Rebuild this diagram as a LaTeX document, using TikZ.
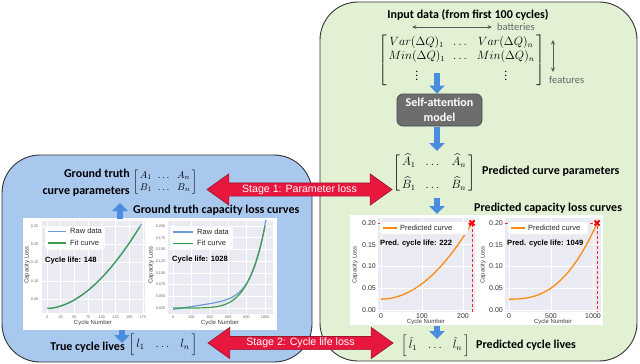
\documentclass[tikz,border=0pt]{standalone}
\usepackage{amsmath}
\usepackage[no-math]{fontspec}
\setmainfont{Carlito}
\newfontfamily\arialf{Liberation Sans}
\usetikzlibrary{shapes.arrows,arrows.meta}
\definecolor{gfill}{HTML}{E2F1D4}
\definecolor{bfill}{HTML}{A9C8EE}
\definecolor{barrow}{HTML}{4A8DDF}
\definecolor{rarrow}{HTML}{E8173E}
\definecolor{rborder}{HTML}{9E1530}
\definecolor{axbg}{HTML}{EAEAF2}
\definecolor{sbblue}{HTML}{6A9BDB}
\definecolor{sbgreen}{HTML}{3F9E4C}
\definecolor{sborange}{HTML}{FF8A12}
\definecolor{boxgray}{HTML}{6D6D6D}
\tikzset{
  panel/.style={draw=black!80, line width=0.9pt, rounded corners=38pt},
  lbl/.style={font=\bfseries\fontsize{12}{15}\selectfont, inner sep=0},
  side/.style={font=\fontsize{10.5}{12}\selectfont, text=black!60, inner sep=0},
  barr/.style={-{Triangle[width=15pt,length=8pt]}, line width=6.5pt, draw=barrow},
  garr/.style={{Stealth[length=4.5pt,width=4pt]}-{Stealth[length=4.5pt,width=4pt]}, draw=black!65, line width=0.8pt},
  redarr/.style={double arrow, fill=rarrow, draw=rborder, line width=0.7pt, text=white,
     font=\arialf\fontsize{10.6}{12}\selectfont, double arrow head extend=9pt,
     double arrow tip angle=71, inner ysep=1pt, inner xsep=0pt, minimum height=185pt,
     text height=8pt, text depth=2.5pt},
  mat/.style={inner sep=0},
  sabox/.style={fill=boxgray, draw=black!70, line width=0.8pt, rounded corners=6pt, text=white,
     font=\bfseries\fontsize{12}{15}\selectfont, align=center, minimum width=85pt, minimum height=32pt, inner sep=0},
  gridl/.style={white, line width=0.6pt},
  tick/.style={font=\arialf\fontsize{7}{7}\selectfont, text=black!80, inner sep=0.5pt},
  smtick/.style={font=\arialf\fontsize{3.8}{4}\selectfont, text=black!60, inner sep=0.5pt},
  axlab/.style={font=\arialf\fontsize{6}{6}\selectfont, text=black!75, inner sep=0},
  leg/.style={font=\arialf\fontsize{7.5}{8}\selectfont, text=black!85, inner sep=0, anchor=mid west},
  lifet/.style={font=\arialf\bfseries\fontsize{7.6}{8}\selectfont, inner sep=0, anchor=mid west},
  legbox/.style={fill=white, draw=black!12, rounded corners=1.5pt, line width=0.3pt},
  reddot/.style={red!85!white, densely dashed, line width=0.6pt},
}
\begin{document}
\begin{tikzpicture}[x=1pt,y=-1pt]
\useasboundingbox (0,0) rectangle (640,364);
% panels
\draw[panel, fill=gfill] (320,2) rectangle (637,361);
\draw[panel, fill=bfill] (2,155) rectangle (312,362);

% ---------------- right plots ----------------
\fill[white] (350,215) rectangle (603,325);
% P1
\fill[axbg] (378,218) rectangle (475,312);
\foreach \i/\lab in {0/0.00,1/0.05,2/0.10,3/0.15,4/0.20}{
  \draw[gridl] (378,{310-21.75*\i}) -- (475,{310-21.75*\i});
  \node[tick, anchor=east] at (376.5,{310-21.75*\i}) {\lab};}
\foreach \c in {0,100,200}{
  \draw[gridl] ({381+0.41*\c},218) -- ({381+0.41*\c},312);
  \node[tick, anchor=north] at ({381+0.41*\c},312.5) {\c};}
\node[axlab] at (426,321.5) {Cycle Number};
\node[axlab, rotate=90] at (355,265) {Capacity Loss};
\draw[reddot] (378,223) -- (472,223) -- (472,312);
\draw[sborange, line width=1.3pt] plot[domain=0:222, samples=40] ({381+0.41*\x},{310-435*(0.025+0.175*(\x/222)^2)});
\draw[red, line width=1.8pt] (469.5,220.5) -- (474.5,225.5) (469.5,225.5) -- (474.5,220.5);
\draw[legbox] (380,221.5) rectangle (468,234.5);
\draw[sborange, line width=1.3pt] (383,228) -- (397,228);
\node[leg] at (400,228) {Predicted curve};
\node[lifet] at (380,242.7) {Pred. cycle life: 222};
% P2
\fill[axbg] (505,218) rectangle (601,312);
\foreach \i/\lab in {0/0.00,1/0.05,2/0.10,3/0.15,4/0.20}{
  \draw[gridl] (505,{310-21.75*\i}) -- (601,{310-21.75*\i});
  \node[tick, anchor=east] at (503.5,{310-21.75*\i}) {\lab};}
\foreach \c in {0,500,1000}{
  \draw[gridl] ({509+0.084*\c},218) -- ({509+0.084*\c},312);
  \node[tick, anchor=north] at ({509+0.084*\c},312.5) {\c};}
\node[axlab] at (553,321.5) {Cycle Number};
\node[axlab, rotate=90] at (483,265) {Capacity Loss};
\draw[reddot] (505,223) -- (597,223) -- (597,312);
\draw[sborange, line width=1.3pt] plot[domain=1:1049, samples=50] ({509+0.084*\x},{310-435*(0.025+0.175*(\x/1049)^2.6)});
\draw[red, line width=1.8pt] (594.5,220.5) -- (599.5,225.5) (594.5,225.5) -- (599.5,220.5);
\draw[legbox] (508,221.5) rectangle (588,234.5);
\draw[sborange, line width=1.3pt] (511,228) -- (525,228);
\node[leg] at (528,228) {Predicted curve};
\node[lifet] at (507,242.7) {Pred. cycle life: 1049};

% ---------------- left plots ----------------
\fill[white] (23,218) rectangle (277,330);
% L1
\fill[axbg] (42,221) rectangle (145,313);
\foreach \v in {0.05,0.10,0.15,0.20,0.25}{
  \draw[gridl] (42,{317.3-365*\v}) -- (145,{317.3-365*\v});
  \node[smtick, anchor=east] at (39,{317.3-365*\v}) {\v};}
\foreach \c in {0,25,...,175}{
  \draw[gridl] ({47+0.5486*\c},221) -- ({47+0.5486*\c},313);
  \node[smtick, anchor=north] at ({47+0.5486*\c},315) {\c};}
\node[axlab] at (93,323) {Cycle Number};
\node[axlab, rotate=90] at (27,265) {Capacity Loss};
\draw[sbblue, line width=1.2pt] plot[domain=0.5:172, samples=40] ({47+0.5486*\x},{317.3-365*(0.024+0.226*(\x/170)^1.85)});
\draw[sbgreen, line width=1.2pt] plot[domain=0.5:169, samples=40] ({47+0.5486*\x},{317.3-365*(0.0245+0.226*(\x/170)^1.85)});
\draw[legbox] (45,226) rectangle (105,250);
\draw[sbblue, line width=1.3pt] (48,231.5) -- (66,231.5);
\node[leg] at (70,231.5) {Raw data};
\draw[sbgreen, line width=1.3pt] (48,243) -- (66,243);
\node[leg] at (70,243) {Fit curve};
\node[lifet] at (45,260) {Cycle life: 148};
% L2
\fill[axbg] (168,221) rectangle (273,314);
\foreach \k/\lab in {1/0.025,2/0.050,3/0.075,4/0.100,5/0.125,6/0.150,7/0.175,8/0.200}{
  \draw[gridl] (168,{319.7-11.715*\k}) -- (273,{319.7-11.715*\k});
  \node[smtick, anchor=east] at (166,{319.7-11.715*\k}) {\lab};}
\foreach \c in {0,200,...,1000}{
  \draw[gridl] ({173+0.092*\c},221) -- ({173+0.092*\c},314);
  \node[smtick, anchor=north] at ({173+0.092*\c},315) {\c};}
\node[axlab] at (220,323) {Cycle Number};
\node[axlab, rotate=90] at (151,265) {Capacity Loss};
\draw[sbblue, line width=1.2pt] plot[domain=1:1010, samples=60] ({173+0.092*\x},{319.7-468.6*(0.022+0.03*(\x/1000)+0.15*(\x/1000)^7)});
\draw[sbgreen, line width=1.2pt] plot[domain=1:1000, samples=60] ({173+0.092*\x},{319.7-468.6*(0.025+0.175*(\x/1000)^5.5)});
\draw[legbox] (170,227) rectangle (233,249);
\draw[sbblue, line width=1.3pt] (173,232) -- (193,232);
\node[leg] at (197,232) {Raw data};
\draw[sbgreen, line width=1.3pt] (173,243.5) -- (193,243.5);
\node[leg] at (197,243.5) {Fit curve};
\node[lifet] at (172,259) {Cycle life: 1028};

% ---------------- right panel texts ----------------
\node[lbl] (intitle) at (468,15) {Input data (from first 100 cycles)};
\coordinate (bl) at (412,27);
\coordinate (br) at (492,27);
\draw[garr] (bl) -- (br);
\node[side, anchor=mid west] (batt) at (497,28) {batteries};
\node[mat, font=\fontsize{11.5}{14}\selectfont] (inmat) at (461.5,60)
 {$\left[\begin{array}{@{\,}c@{\hspace{8pt}}c@{\hspace{8pt}}c@{\,}}
   Var(\Delta Q)_1 & \dots & Var(\Delta Q)_n\\
   Min(\Delta Q)_1 & \dots & Min(\Delta Q)_n\\[1pt]
   \vdots & & \vdots
   \end{array}\right]$};
\coordinate (ft) at (553,40);
\coordinate (fb) at (553,72);
\draw[garr] (ft) -- (fb);
\node[side, anchor=mid west] (feat) at (549,81) {features};
\node[sabox] (sa) at (439.5,110) {Self-attention\\model};
\node[mat, font=\fontsize{12}{14}\selectfont] (pmat) at (434,173.5)
 {$\left[\begin{array}{@{\,}c@{\hspace{10pt}}c@{\hspace{10pt}}c@{\,}}
   \widehat{A}_1 & \dots & \widehat{A}_n\\[7pt]
   \widehat{B}_1 & \dots & \widehat{B}_n
   \end{array}\right]$};
\node[lbl, anchor=mid west] (pcp) at (482,172) {Predicted curve parameters};
\node[lbl, anchor=mid west] (pclc) at (474,209) {Predicted capacity loss curves};
\node[mat, font=\fontsize{12}{14}\selectfont] (plmat) at (435.5,346)
 {$\left[\rule[-8pt]{0pt}{20pt}\,\hat{l}_1\hspace{9pt}\dots\hspace{9pt}\hat{l}_n\,\right]$};
\node[lbl, anchor=mid west] (pcl) at (476,346.5) {Predicted cycle lives};

% blue arrows right
\coordinate (a1) at (437,73);
\draw[barr] (a1) -- (a1 |- sa.north);
\coordinate (a2) at (437,127);
\coordinate (a2e) at (437,151);
\draw[barr] (a2) -- (a2e);
\coordinate (a3) at (437,198);
\coordinate (a3e) at (437,214);
\draw[barr] (a3) -- (a3e);
\coordinate (a4) at (437,326);
\coordinate (a4e) at (437,339);
\draw[barr] (a4) -- (a4e);

% ---------------- left panel texts ----------------
\node[lbl, anchor=mid east] (gt1) at (130,175) {Ground truth};
\node[lbl, anchor=mid east] (gt2) at (130,192) {curve parameters};
\node[mat, font=\fontsize{10}{12}\selectfont] (gtmat) at (165,182)
 {$\left[\begin{array}{@{\,}c@{\hspace{6pt}}c@{\hspace{6pt}}c@{\,}}
   A_1 & \dots & A_n\\
   B_1 & \dots & B_n
   \end{array}\right]$};
\node[lbl, anchor=mid west] (gtc) at (133,211) {Ground truth capacity loss curves};
\coordinate (b1) at (120,219);
\coordinate (b1e) at (120,203);
\draw[barr] (b1) -- (b1e);
\node[lbl, anchor=mid east] (tcl) at (125,348) {True cycle lives};
\node[mat, font=\fontsize{12}{14}\selectfont] (tlmat) at (163,345)
 {$\left[\rule[-8pt]{0pt}{20pt}\,l_1\hspace{9pt}\dots\hspace{9pt}l_n\,\right]$};
\coordinate (b2) at (122,330);
\coordinate (b2e) at (122,343);
\draw[barr] (b2) -- (b2e);

% ---------------- red arrows ----------------
\node[redarr] (st1) at (299.5,189.5) {Stage 1: Parameter loss};
\node[redarr] (st2) at (300.5,343) {Stage 2: Cycle life loss};
\end{tikzpicture}
\end{document}
